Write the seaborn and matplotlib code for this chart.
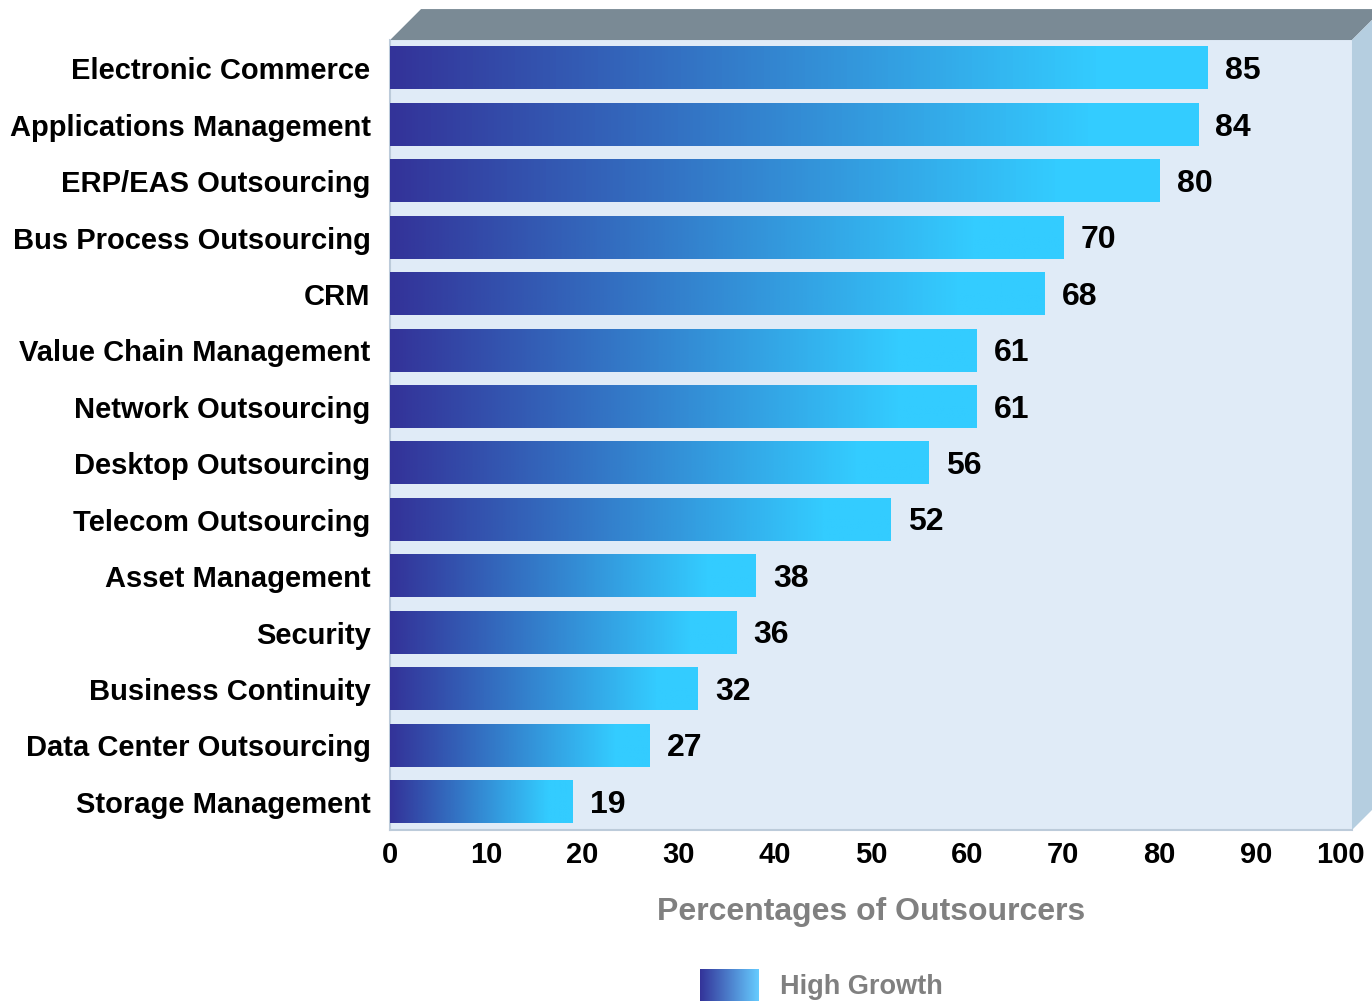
import numpy as np
import pandas as pd
import matplotlib.pyplot as plt
import matplotlib.colors as mcolors
from matplotlib.patches import Polygon
from matplotlib.transforms import ScaledTranslation
import seaborn as sns

sns.set_theme(style='white')
plt.rcParams['font.family'] = ['Liberation Sans', 'DejaVu Sans']

# Data
services = ['Electronic Commerce', 'Applications Management', 'ERP/EAS Outsourcing',
            'Bus Process Outsourcing', 'CRM', 'Value Chain Management',
            'Network Outsourcing', 'Desktop Outsourcing', 'Telecom Outsourcing',
            'Asset Management', 'Security', 'Business Continuity',
            'Data Center Outsourcing', 'Storage Management']
percentages = [85, 84, 80, 70, 68, 61, 61, 56, 52, 38, 36, 32, 27, 19]
x_ticks = list(range(0, 101, 10))
x_label = 'Percentages of Outsourcers'
legend_label = 'High Growth'

df = pd.DataFrame({'Service': services, 'Percent': percentages})

bar_cmap = mcolors.LinearSegmentedColormap.from_list('bars', ['#333399', '#33CCFF'])
legend_cmap = mcolors.LinearSegmentedColormap.from_list('leg', ['#333399', '#66CCFF'])

fig = plt.figure(figsize=(13.72, 10.01), dpi=100)
ax = fig.add_axes([0.2843, 0.1708, 0.7011, 0.7892])
ax.set_facecolor('#E0EBF7')

sns.barplot(data=df, x='Percent', y='Service', orient='h', ax=ax,
            width=0.75, color='#33CCFF', zorder=2)

ax.set_xlim(0, 100)
ylim = ax.get_ylim()

# gradient fill for each bar (reaches cyan at ~87% of the bar)
grad = np.clip(np.linspace(0, 1, 256) / 0.87, 0, 1).reshape(1, -1)
for bar in ax.patches:
    x0, y0, w, h = bar.get_bbox().bounds
    ax.imshow(grad, cmap=bar_cmap, vmin=0, vmax=1, aspect='auto',
              extent=[x0, x0 + w, y0 + h, y0], zorder=3)
    bar.set_visible(False)
ax.set_xlim(0, 100)
ax.set_ylim(ylim)

# value labels
for i, v in enumerate(percentages):
    ax.text(v + 1.8, i + 0.05, str(v), va='center', ha='left',
            fontsize=23, fontweight='bold', color='black', zorder=4)

# axes styling
ax.set_xticks(x_ticks)
ax.set_xticklabels([str(t) for t in x_ticks], fontweight='bold')
ax.set_yticklabels(services, fontweight='bold')
ax.tick_params(axis='x', labelsize=21, pad=8, length=0, colors='black')
ax.tick_params(axis='y', labelsize=21, pad=14, length=0, colors='black')
ax.set_ylabel('')
ax.set_xlabel(x_label, fontsize=23, fontweight='bold', color='#808080', labelpad=20)

# keep the "100" inside the picture
last = ax.get_xticklabels()[-1]
last.set_transform(last.get_transform() + ScaledTranslation(-8 / 72, 0, fig.dpi_scale_trans))

for s in ['top', 'right']:
    ax.spines[s].set_visible(False)
for s in ['left', 'bottom']:
    ax.spines[s].set_color('#BCCBDA')
    ax.spines[s].set_linewidth(1.5)

# 3D frame
dx, dy = 0.0322, 0.0392
top = Polygon([(0, 1), (dx, 1 + dy), (1 + dx, 1 + dy), (1, 1)], closed=True,
              facecolor='#7A8A95', edgecolor='none', transform=ax.transAxes, clip_on=False)
side = Polygon([(1, 0), (1 + dx, dy), (1 + dx, 1 + dy), (1, 1)], closed=True,
               facecolor='#B5CEE0', edgecolor='none', transform=ax.transAxes, clip_on=False)
ax.add_patch(top)
ax.add_patch(side)

# legend
lax = fig.add_axes([0.5102, -0.01, 0.043, 0.042])
lax.imshow(np.linspace(0, 1, 256).reshape(1, -1), cmap=legend_cmap, aspect='auto')
lax.axis('off')
fig.text(780 / 1372, 1 - 987 / 1001, legend_label, fontsize=19.5, fontweight='bold',
         color='#808080', va='center', ha='left')

fig.savefig('out.png', dpi=100)
